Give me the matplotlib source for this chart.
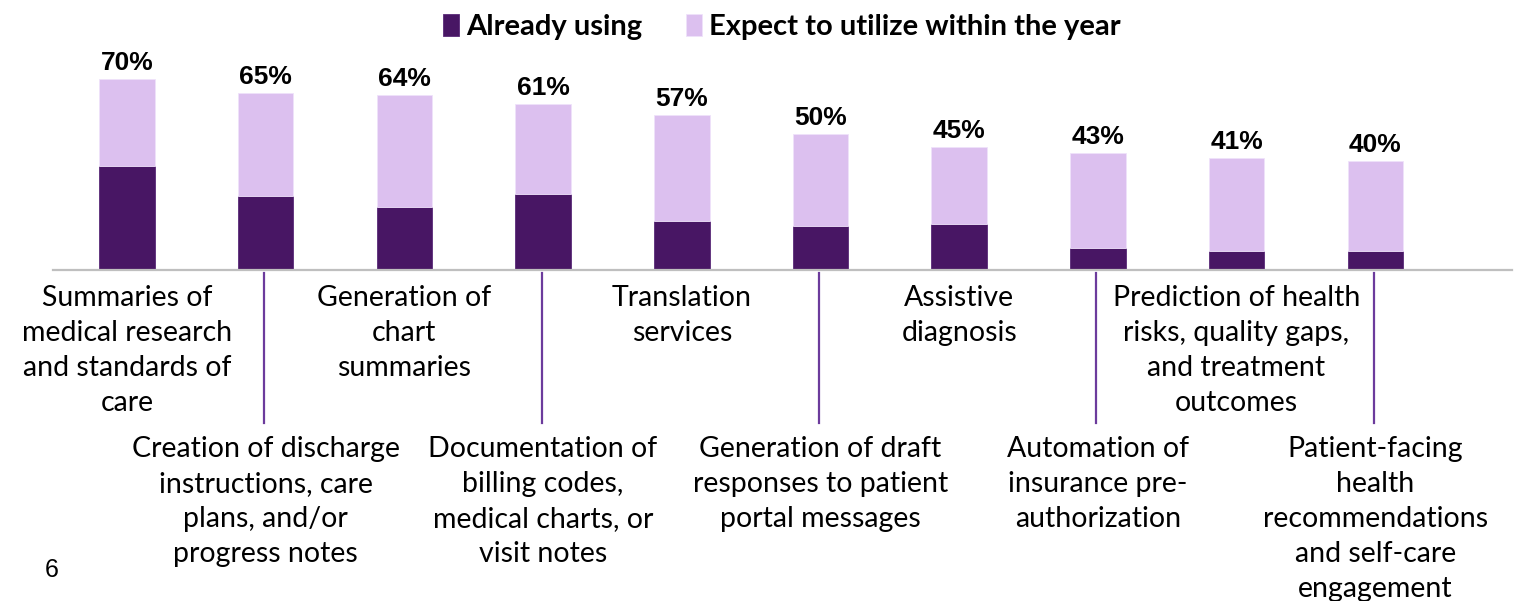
import matplotlib
matplotlib.use("Agg")
import matplotlib.pyplot as plt
import numpy as np

# survey results, % of respondents
categories = [
    "Summaries of\nmedical research\nand standards of\ncare",
    "Creation of discharge\ninstructions, care\nplans, and/or\nprogress notes",
    "Generation of\nchart\nsummaries",
    "Documentation of\nbilling codes,\nmedical charts, or\nvisit notes",
    "Translation\nservices",
    "Generation of draft\nresponses to patient\nportal messages",
    "Assistive\ndiagnosis",
    "Automation of\ninsurance pre-\nauthorization",
    "Prediction of health\nrisks, quality gaps,\nand treatment\noutcomes",
    "Patient-facing\nhealth\nrecommendations\nand self-care\nengagement",
]
totals = [70, 65, 64, 61, 57, 50, 45, 43, 41, 40]
already_using = [38, 27, 23, 28, 18, 16, 17, 8, 7, 7]
expect_within_year = [t - a for t, a in zip(totals, already_using)]
series_names = ["Already using", "Expect to utilize within the year"]

DARK = "#481664"
LIGHT = "#dcc0ef"
TICK = "#6c3b9c"
LABEL_FONT = "Lato"

fig = plt.figure(figsize=(15.17, 6.01), dpi=100)
ax = fig.add_axes([53 / 1517, 331 / 601, 1459 / 1517, 270 / 601])

x = np.arange(len(categories))
b1 = ax.bar(x, already_using, width=0.4, color=DARK, edgecolor="#5a2a78", linewidth=0.6)
b2 = ax.bar(x, expect_within_year, bottom=already_using, width=0.4,
            color=LIGHT, edgecolor="#efe2fa", linewidth=0.6)

ax.set_xlim(-0.5335, 9.986)
ax.set_ylim(0, 99)
for side in ["top", "right", "left"]:
    ax.spines[side].set_visible(False)
ax.spines["bottom"].set_color("#bfbfbf")
ax.spines["bottom"].set_linewidth(1.6)
ax.set_xticks([])
ax.set_yticks([])

# total labels above each stack
for xi, t in zip(x, totals):
    ax.annotate(f"{t}%", (xi, t), xytext=(0, 6.5), textcoords="offset points",
                ha="center", va="baseline", fontsize=19, fontweight="bold",
                family="Liberation Sans", color="black")

# staggered category labels; every second one hangs lower on a leader line
trans = ax.get_xaxis_transform()
for i, (xi, lab) in enumerate(zip(x, categories)):
    if i % 2 == 0:
        ax.text(xi, -0.055, lab, transform=trans, ha="center", va="top",
                fontsize=20.5, family=LABEL_FONT, linespacing=1.43, color="black")
    else:
        ax.plot([xi - 0.01, xi - 0.01], [-0.011, -0.567], transform=trans,
                color=TICK, lw=1.6, clip_on=False)
        ax.text(xi, -0.615, lab, transform=trans, ha="center", va="top",
                fontsize=20.5, family=LABEL_FONT, linespacing=1.43, color="black")

fig.legend([b1, b2], series_names, loc="center", bbox_to_anchor=(0.5155, 0.955),
           ncol=2, frameon=False, handlelength=0.55, handleheight=0.75,
           handletextpad=0.25, columnspacing=1.5,
           prop={"family": LABEL_FONT, "weight": "bold", "size": 21})

fig.text(45 / 1517, 1 - 577 / 601, "6", fontsize=18, family="Liberation Sans",
         ha="left", va="baseline")

fig.savefig("out.png", dpi=100)
